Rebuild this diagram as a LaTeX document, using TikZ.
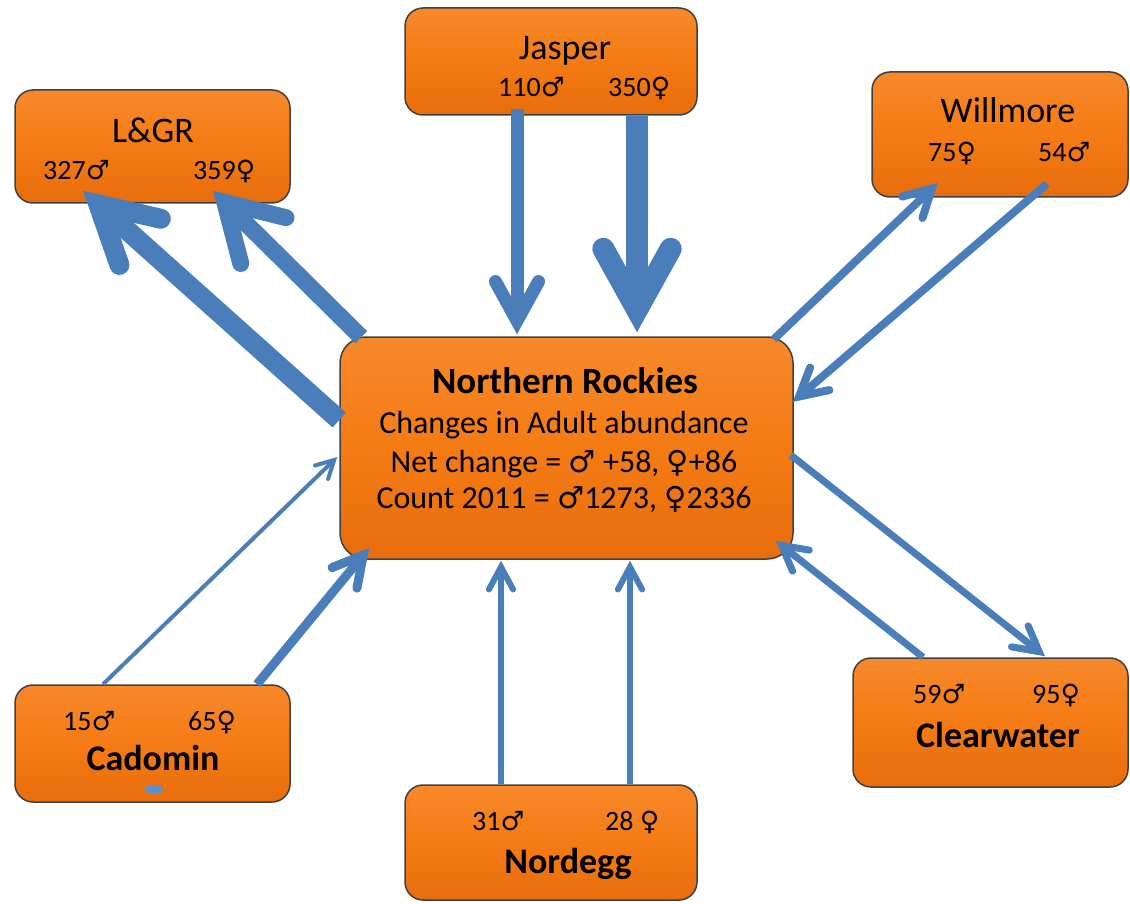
\documentclass[tikz,border=0pt]{standalone}
\usepackage{fontspec}
\setmainfont{Carlito}
\newfontfamily\symfont{DejaVu Sans}[Scale=0.95]
\usetikzlibrary{arrows.meta}
\definecolor{BoxOrange}{HTML}{F47B14}
\definecolor{BoxTop}{HTML}{F7892B}
\definecolor{BoxBottom}{HTML}{E86D0D}
\definecolor{FlowBlue}{HTML}{4A7EBB}
\definecolor{MarkBlue}{HTML}{5B8FD2}
\newcommand{\gmale}{{\symfont ♂}}
\newcommand{\gfemale}{{\symfont ♀}}

\begin{document}
\begin{tikzpicture}[
        x=1pt, y=-1pt,
        sitebox/.style={draw=black!75, line width=1.5pt, rounded corners=18pt, top color=BoxTop, bottom color=BoxBottom, middle color=BoxOrange, inner sep=0pt},
        sitelbl/.style={font=\fontsize{36}{40}\selectfont, anchor=base, inner sep=0pt},
        sitelblb/.style={sitelbl, font=\fontsize{36}{40}\selectfont\bfseries},
        numlbl/.style={font=\fontsize{28}{32}\selectfont, anchor=base west, inner sep=0pt},
        mainlbl/.style={font=\fontsize{32}{36}\selectfont, anchor=base, inner sep=0pt},
        flow/.style={draw=FlowBlue, line width=#1, -{Straight Barb[length=8pt 2.4, width=8pt 2.7, line cap=round, line join=miter]}}
    ]
        \useasboundingbox (0,0) rectangle (1130,904);

        % boxes
        \node[sitebox, rounded corners=26pt, minimum width=453pt, minimum height=222pt] (nr) at (566.5,448) {};
        \node[sitebox, minimum width=275pt, minimum height=113pt] (lgr) at (152.5,146.5) {};
        \node[sitebox, minimum width=292pt, minimum height=107pt] (jas) at (551,61.5) {};
        \node[sitebox, minimum width=256pt, minimum height=125pt] (wil) at (1000,134.5) {};
        \node[sitebox, minimum width=275pt, minimum height=117pt] (cad) at (152.5,743.5) {};
        \node[sitebox, minimum width=275pt, minimum height=129pt] (clw) at (990.5,722.5) {};
        \node[sitebox, minimum width=292pt, minimum height=115pt] (nor) at (551,842.5) {};
        \node[fill=MarkBlue, minimum width=16pt, minimum height=8pt, inner sep=0pt, rounded corners=1.5pt] (cadmark) at (154,789) {};

        % movements
        \draw[flow=20pt] ([yshift=28pt]nr.west) -- ([xshift=-69.5pt,yshift=13pt]lgr.south);
        \draw[flow=17pt, -{Straight Barb[length=10pt 2.6, width=10pt 3.2, line cap=round, line join=miter]}] ([xshift=22pt,yshift=-1pt]nr.north west) -- ([xshift=60.5pt,yshift=13pt]lgr.south);
        \draw[flow=13pt] ([xshift=-34pt,yshift=7pt]jas.south) -- ([xshift=-49.5pt,yshift=2pt]nr.north);
        \draw[flow=22pt] ([xshift=86pt]jas.south) -- ([xshift=70.5pt,yshift=4pt]nr.north);
        \draw[flow=8pt] ([xshift=-20pt,yshift=-3pt]nr.north east) -- ([xshift=-62pt,yshift=15pt]wil.south);
        \draw[flow=8pt] ([xshift=47pt,yshift=14pt]wil.south) -- ([xshift=-1pt,yshift=46pt]nr.east);
        \draw[flow=7pt] ([xshift=-3pt,yshift=-7pt]nr.east) -- ([xshift=54.5pt,yshift=1pt]clw.north);
        \draw[flow=7pt] ([xshift=-67.5pt]clw.north) -- ([xshift=-18pt,yshift=19pt]nr.south east);
        \draw[flow=6pt] ([xshift=-50pt]nor.north) -- ([xshift=-65.5pt,yshift=-1pt]nr.south);
        \draw[flow=6pt] ([xshift=79pt]nor.north) -- ([xshift=63.5pt,yshift=-1pt]nr.south);
        \draw[flow=4pt] ([xshift=-49.5pt]cad.north) -- ([xshift=-2pt,yshift=-9pt]nr.west);
        \draw[flow=9pt] ([xshift=104.5pt]cad.north) -- ([xshift=30pt,yshift=12pt]nr.south west);

        % labels
        \node[sitelblb, font=\fontsize{37}{40}\selectfont\bfseries] (nrname) at (565,393) {Northern Rockies};
        \node[mainlbl] (nrsub) at (564,433) {Changes in Adult abundance};
        \node[mainlbl] (nrnet) at (564,472) {Net change = \gmale{} +58, \gfemale+86};
        \node[mainlbl] (nrcount) at (564,508) {Count 2011 = \gmale1273, \gfemale2336};

        \node[sitelbl] (lgrname) at (153,143) {L\&GR};
        \node[numlbl] (lgrm) at (43,180) {327\gmale};
        \node[numlbl] (lgrf) at (193,180) {359\gfemale};

        \node[sitelbl] (jasname) at (565,60) {Jasper};
        \node[numlbl] (jasm) at (498,97) {110\gmale};
        \node[numlbl] (jasf) at (608,97) {350\gfemale};

        \node[sitelbl] (wilname) at (1008,123) {Willmore};
        \node[numlbl] (wilf) at (928,162) {75\gfemale};
        \node[numlbl] (wilm) at (1038,162) {54\gmale};

        \node[numlbl] (cadm) at (63,730) {15\gmale};
        \node[numlbl] (cadf) at (188,730) {65\gfemale};
        \node[sitelblb] (cadname) at (153,770) {Cadomin};

        \node[numlbl] (clwm) at (913,703) {59\gmale};
        \node[numlbl] (clwf) at (1032,703) {95\gfemale};
        \node[sitelblb] (clwname) at (998,747) {Clearwater};

        \node[numlbl] (norm) at (472,830) {31\gmale};
        \node[numlbl] (norf) at (605,830) {28 \gfemale};
        \node[sitelblb] (norname) at (568,873) {Nordegg};
    \end{tikzpicture}
\end{document}
